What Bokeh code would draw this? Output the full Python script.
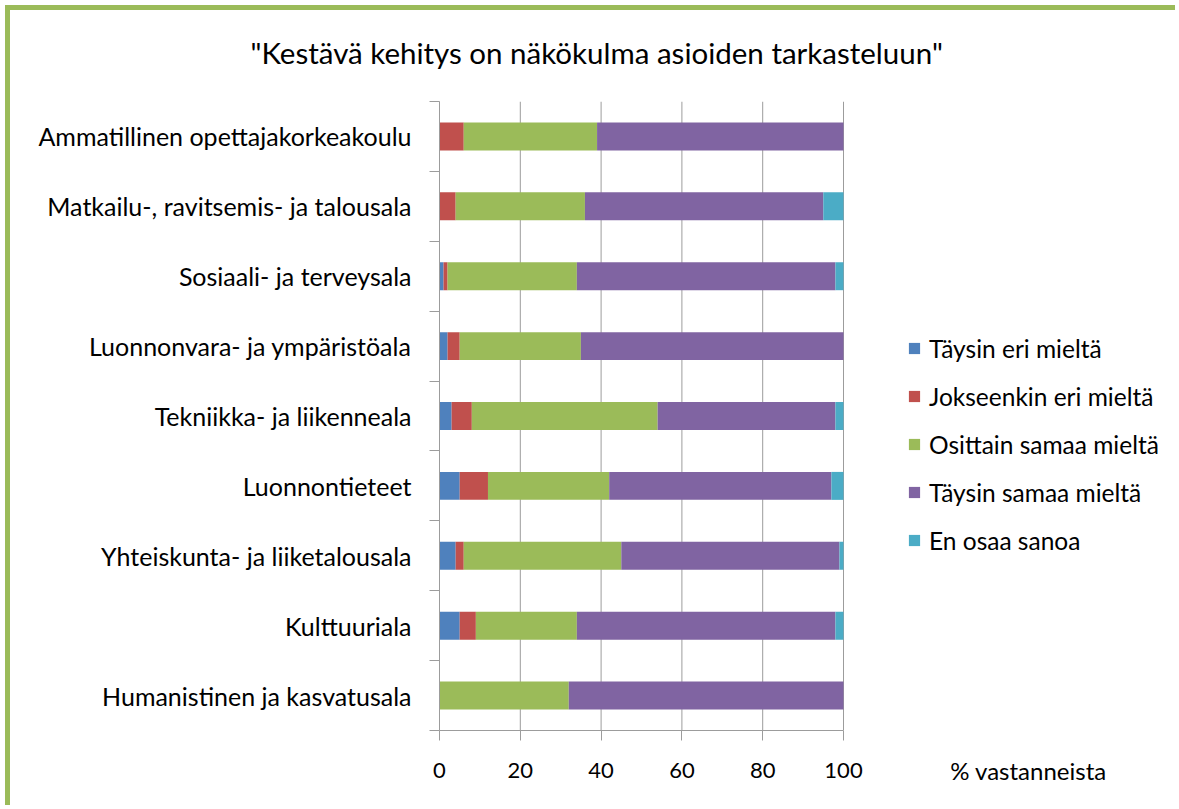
from bokeh.plotting import figure
from bokeh.models import (ColumnDataSource, Range1d, FixedTicker, Legend, LegendItem,
                          LinearAxis, Title)
from bokeh.embed import file_html
from bokeh.resources import INLINE

# ---- data ----
categories = [
    "Ammatillinen opettajakorkeakoulu",
    "Matkailu-, ravitsemis- ja talousala",
    "Sosiaali- ja terveysala",
    "Luonnonvara- ja ympäristöala",
    "Tekniikka- ja liikenneala",
    "Luonnontieteet",
    "Yhteiskunta- ja liiketalousala",
    "Kulttuuriala",
    "Humanistinen ja kasvatusala",
]
series_names = [
    "Täysin eri mieltä",
    "Jokseenkin eri mieltä",
    "Osittain samaa mieltä",
    "Täysin samaa mieltä",
    "En osaa sanoa",
]
taysin_eri = [0, 0, 1, 2, 3, 5, 4, 5, 0]
jokseenkin_eri = [6, 4, 1, 3, 5, 7, 2, 4, 0]
osittain_samaa = [33, 32, 32, 30, 46, 30, 39, 25, 32]
taysin_samaa = [61, 59, 64, 65, 44, 55, 54, 64, 68]
en_osaa = [0, 5, 2, 0, 2, 3, 1, 2, 0]
x_ticks = [0, 20, 40, 60, 80, 100]
x_max = 100
title_text = '"Kestävä kehitys on näkökulma asioiden tarkasteluun"'
x_label_text = "% vastanneista"

colors = ["#4F81BD", "#C0504D", "#9BBB59", "#8064A2", "#4BACC6"]
FONT = "Lato"
GRID = "#9c9c9c"

# ---- layout geometry (pixels) ----
W, H = 1175, 805
LEFT, TOP, BOTTOM = 439, 100, 75
PLOT_W = 404          # width of the 0..100 value span
frame_w = W - LEFT

n = len(categories)
x_end = x_max * frame_w / PLOT_W
ypos = [n - 0.5 - i for i in range(n)]
keys = ["s0", "s1", "s2", "s3", "s4"]
source = ColumnDataSource(dict(
    y=ypos, cat=categories,
    s0=taysin_eri, s1=jokseenkin_eri, s2=osittain_samaa, s3=taysin_samaa, s4=en_osaa,
))

p = figure(
    width=W, height=H,
    x_range=Range1d(0, x_end), y_range=Range1d(0, n),
    output_backend="svg", toolbar_location=None,
    min_border_left=LEFT, min_border_right=0,
    min_border_top=TOP, min_border_bottom=BOTTOM,
)
p.styles = {"box-shadow": "inset 5px 5px 0 0 #ffffff, inset 10px 10px 0 0 #9BBB59"}
p.outline_line_color = None
p.background_fill_color = "white"
p.border_fill_color = None
p.xgrid.visible = False
p.ygrid.visible = False

# vertical gridlines at the x ticks, spanning the category rows only
p.segment(x0=x_ticks, x1=x_ticks, y0=[0] * len(x_ticks), y1=[n] * len(x_ticks),
          line_color=GRID, line_width=1)

renderers = p.hbar_stack(keys, y="y", height=0.4, color=colors, source=source,
                         line_color=None)

# x axis: line, tick marks and tick labels over 0..100
xa = p.xaxis[0]
xa.bounds = (0, x_max)
xa.ticker = FixedTicker(ticks=x_ticks)
xa.axis_line_color = GRID
xa.major_tick_line_color = GRID
xa.major_tick_out = 10
xa.major_tick_in = 0
xa.minor_tick_line_color = None
xa.minor_tick_out = 0
xa.major_label_text_font = FONT
xa.major_label_text_font_size = "22px"
xa.major_label_text_color = "black"
xa.major_label_standoff = 22

# caption on the same line, right of the tick labels
x_label_pos = (1028 - LEFT) / PLOT_W * x_max
xb = LinearAxis(
    ticker=FixedTicker(ticks=[x_label_pos]),
    major_label_overrides={x_label_pos: x_label_text},
    axis_line_color=None, major_tick_line_color=None, minor_tick_line_color=None,
    major_tick_out=0, major_tick_in=0, minor_tick_out=0, minor_tick_in=0,
    major_label_text_font=FONT, major_label_text_font_size="24px",
    major_label_text_color="black", major_label_standoff=-25,
)
p.add_layout(xb, "below")

# y axis
ya = p.yaxis[0]
ya.bounds = (0, n)
ya.ticker = FixedTicker(ticks=ypos, minor_ticks=list(range(n + 1)))
ya.major_label_overrides = {yv: c for yv, c in zip(ypos, categories)}
ya.axis_line_color = GRID
ya.major_tick_line_color = None
ya.major_tick_out = 0
ya.major_tick_in = 0
ya.minor_tick_line_color = GRID
ya.minor_tick_out = 10
ya.minor_tick_in = 0
ya.major_label_text_font = FONT
ya.major_label_text_font_size = "25px"
ya.major_label_text_color = "black"
ya.major_label_standoff = 18

legend = Legend(
    items=[LegendItem(label=s, renderers=[r]) for s, r in zip(series_names, renderers)],
    location=(468, 175),
    glyph_width=14, glyph_height=14,
    label_standoff=8, label_height=30, spacing=18,
    padding=0, margin=0,
    border_line_color=None, background_fill_alpha=0,
    label_text_font=FONT, label_text_font_size="24.5px", label_text_color="black",
)
p.add_layout(legend)

p.title = Title(text=title_text, align="left", offset=250 - LEFT, standoff=64,
                vertical_align="bottom",
                text_font=FONT, text_font_size="29.5px", text_font_style="normal",
                text_color="black")

open("out.html", "w").write(file_html(p, INLINE))
